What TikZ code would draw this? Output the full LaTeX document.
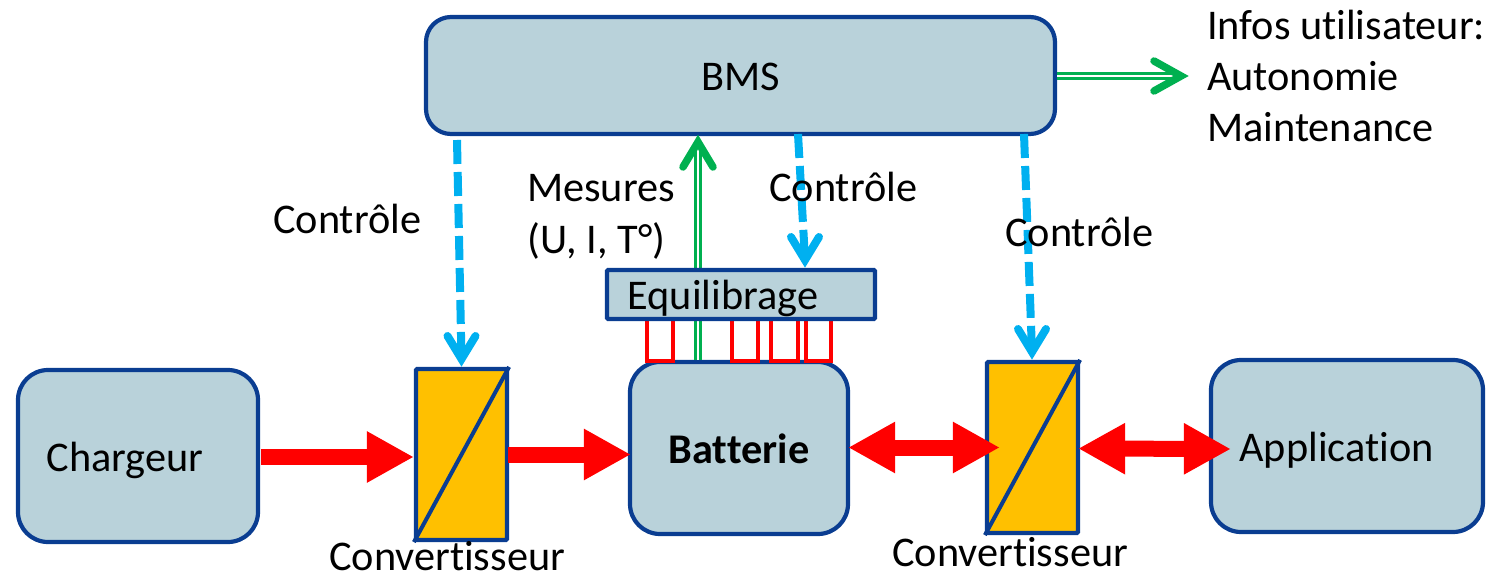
\documentclass[tikz,border=0pt]{standalone}
\usepackage{fontspec}
\setmainfont{Carlito}[Ligatures=NoCommon]
\usetikzlibrary{arrows.meta,calc}
\definecolor{boxfill}{HTML}{B9D2DA}
\definecolor{boxline}{HTML}{0A3D91}
\definecolor{convfill}{HTML}{FFC000}
\definecolor{ctrl}{HTML}{00B0F0}
\definecolor{meas}{HTML}{00B050}
\definecolor{power}{HTML}{FF0000}
\tikzset{
  x=1pt,y=-1pt,
  every node/.style={font=\fontsize{42.3}{51}\selectfont},
  box/.style={draw=boxline,fill=boxfill,line width=4.2pt,rounded corners=30pt,inner sep=0pt,
    text height=29.5pt,text depth=0pt,anchor=center},
  lowbox/.style={box,text height=31pt},
  flatbox/.style={box,rounded corners=1pt},
  conv/.style={draw=boxline,fill=convfill,line width=4.2pt,rounded corners=1pt,inner sep=0pt,
    minimum width=91pt,minimum height=171pt,anchor=center},
  convslash/.style={draw=boxline,line width=4pt},
  txt/.style={anchor=base west,inner sep=0pt,align=left},
  cell/.style={draw=power,line width=3.6pt,fill=none,inner sep=0pt,anchor=north west,minimum width=26pt,minimum height=43pt},
  pow/.style={draw=power,line width=16pt,-{Triangle[length=47pt,width=48pt,fill=power]}},
  powtwo/.style={draw=power,line width=16pt,{Triangle[length=47pt,width=48pt,fill=power]}-{Triangle[length=47pt,width=48pt,fill=power]}},
  ctrlline/.style={draw=ctrl,line width=8pt,dash pattern=on 24pt off 8pt},
  ctrltip/.style={draw=ctrl,line width=8pt,line cap=round,line join=miter,miter limit=10},
  measthin/.style={draw=meas,line width=2.6pt,double=white,double distance=2.4pt},
  meastip/.style={draw=meas,line width=7.5pt,line cap=round,line join=miter,miter limit=10},
}
\begin{document}
\begin{tikzpicture}
\useasboundingbox (0,0) rectangle (1505,575);
% boxes
\node[box,rounded corners=25pt,minimum width=629pt,minimum height=117pt] (bms) at (740.5,75.5) {BMS};
\node[lowbox,minimum width=240pt,minimum height=172pt] (chargeur) at (138,456) {Chargeur\hspace*{26pt}};
\node[conv] (conv1) at (461.5,454.5) {};
\node[lowbox,minimum width=218pt,minimum height=172pt] (batterie) at (739,448) {\textbf{Batterie}};
\node[conv] (conv2) at (1032.5,447.5) {};
\node[lowbox,minimum width=272pt,minimum height=172pt] (app) at (1347,446) {Application\hspace*{21pt}};
% measure line (behind the balancing box)
\coordinate (mtip) at (698,142);
\draw[measthin] (batterie.north -| mtip) -- (mtip);
% balancing cells
\node[cell] (c1) at (645,316) {};
\node[cell] (c2) at (730,316) {};
\node[cell,minimum width=27pt] (c3) at (769,316) {};
\node[cell,minimum width=25pt] (c4) at (804,316) {};
\node[flatbox,minimum width=268pt,minimum height=49pt] (equi) at (741,294.5) {Equilibrage\hspace*{36pt}};
% converter slashes
\draw[convslash] (conv1.south west) -- (conv1.north east);
\draw[convslash] (conv2.south west) -- (conv2.north east);
% measure tip
\draw[meastip] ($(mtip)+(-15,25)$) -- (mtip) -- ($(mtip)+(15,25)$);
% output
\coordinate (otip) at (1181,76);
\draw[measthin] (bms.east |- otip) -- (otip);
\draw[meastip] ($(otip)+(-27,-15)$) -- (otip) -- ($(otip)+(-27,15)$);
% control arrows
\coordinate (k1a) at (457,140); \coordinate (k1b) at (461.5,359);
\coordinate (k2a) at (798,134); \coordinate (k2b) at (805,260);
\coordinate (k3a) at (1024,134); \coordinate (k3b) at (1032,352);
\draw[ctrlline] (k1a) -- (k1b);
\draw[ctrltip] ($(k1b)+(-14,-23)$) -- (k1b) -- ($(k1b)+(14,-23)$);
\draw[ctrlline] (k2a) -- (k2b);
\draw[ctrltip] ($(k2b)+(-14,-23)$) -- (k2b) -- ($(k2b)+(14,-23)$);
\draw[ctrlline] (k3a) -- (k3b);
\draw[ctrltip] ($(k3b)+(-14,-23)$) -- (k3b) -- ($(k3b)+(14,-23)$);
% power arrows
\draw[pow] ($(chargeur.east)+(1,1)$) -- ($(conv1.west)+(0,2.5)$);
\draw[pow] ($(conv1.east)+(-1,0)$) -- ($(batterie.west)+(3,6.5)$);
\draw[powtwo] ($(batterie.east)+(-2,-0.5)$) -- ($(conv2.west)+(15,0)$);
\draw[powtwo] ($(conv2.east)+(-2,1)$) -- ($(app.west)+(22,3)$);
% labels
\node[txt] (t1) at (1207,40) {Infos utilisateur:};
\node[txt] (t2) at (1207,90.5) {Autonomie};
\node[txt] (t3) at (1207,141.5) {Maintenance};
\node[txt] (t4) at (527,201.5) {Mesures};
\node[txt] (t5) at (527,253) {(U, I, T°)};
\node[txt] (t6) at (273,233) {Contrôle};
\node[txt] (t7) at (769,201) {Contrôle};
\node[txt] (t8) at (1005,246) {Contrôle};
\node[txt] (t9) at (329,570.5) {Convertisseur};
\node[txt] (t10) at (892,566) {Convertisseur};
\end{tikzpicture}
\end{document}
